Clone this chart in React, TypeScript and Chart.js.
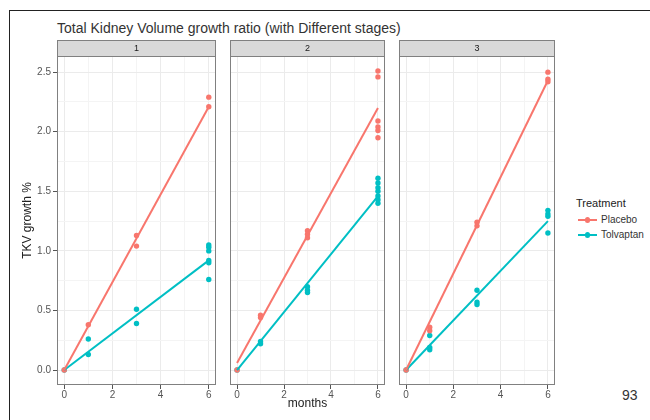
import React, { useEffect, useRef } from "react";
import { Chart, registerables } from "chart.js";

Chart.register(...registerables);

// ---------- data ----------
const chartTitle = "Total Kidney Volume growth ratio (with Different stages)";
const stageLabels = ["1", "2", "3"];
const treatments = ["Placebo", "Tolvaptan"];
const xTickValues = [0, 2, 4, 6];
const xMinorValues = [1, 3, 5];
const yTickValues = [0, 0.5, 1, 1.5, 2, 2.5];
const yMinorValues = [0.25, 0.75, 1.25, 1.75, 2.25];
const fitMonths = [0, 6];

// stage 1
const placeboMonths1 = [0, 1, 3, 3, 6, 6];
const placeboGrowth1 = [0, 0.38, 1.13, 1.04, 2.29, 2.21];
const placeboFit1 = [0.0, 2.21];
const tolvaptanMonths1 = [0, 1, 1, 3, 3, 6, 6, 6, 6, 6, 6];
const tolvaptanGrowth1 = [0, 0.26, 0.13, 0.51, 0.39, 1.05, 1.03, 1.0, 0.92, 0.9, 0.76];
const tolvaptanFit1 = [0.0, 0.92];

// stage 2
const placeboMonths2 = [0, 1, 1, 3, 3, 3, 6, 6, 6, 6, 6, 6];
const placeboGrowth2 = [0, 0.46, 0.44, 1.17, 1.14, 1.11, 2.51, 2.46, 2.09, 2.04, 2.01, 1.95];
const placeboFit2 = [0.06, 2.2];
const tolvaptanMonths2 = [0, 1, 1, 3, 3, 3, 6, 6, 6, 6, 6, 6, 6];
const tolvaptanGrowth2 = [0, 0.24, 0.22, 0.7, 0.67, 0.65, 1.61, 1.57, 1.53, 1.5, 1.46, 1.43, 1.4];
const tolvaptanFit2 = [0.0, 1.46];

// stage 3
const placeboMonths3 = [0, 1, 1, 3, 3, 6, 6, 6];
const placeboGrowth3 = [0, 0.36, 0.33, 1.24, 1.21, 2.5, 2.44, 2.42];
const placeboFit3 = [0.0, 2.43];
const tolvaptanMonths3 = [0, 1, 1, 1, 3, 3, 3, 6, 6, 6, 6];
const tolvaptanGrowth3 = [0, 0.29, 0.19, 0.17, 0.67, 0.57, 0.55, 1.34, 1.31, 1.29, 1.15];
const tolvaptanFit3 = [0.0, 1.25];

// ---------- style ----------
const PLACEBO = "#F8766D";
const TOLVAPTAN = "#00BFC4";
const FONT = "'Liberation Sans', Arial, sans-serif";
const X_MIN = -0.3;
const X_MAX = 6.3;
const Y_MIN = -0.1255;
const Y_MAX = 2.6355;

const stages = [
  { pm: placeboMonths1, pg: placeboGrowth1, pf: placeboFit1, tm: tolvaptanMonths1, tg: tolvaptanGrowth1, tf: tolvaptanFit1 },
  { pm: placeboMonths2, pg: placeboGrowth2, pf: placeboFit2, tm: tolvaptanMonths2, tg: tolvaptanGrowth2, tf: tolvaptanFit2 },
  { pm: placeboMonths3, pg: placeboGrowth3, pf: placeboFit3, tm: tolvaptanMonths3, tg: tolvaptanGrowth3, tf: tolvaptanFit3 },
];

const toPoints = (xs: number[], ys: number[]) => xs.map((x, i) => ({ x, y: ys[i] }));
const isMajorX = (v: number) => xTickValues.includes(v);
const isMajorY = (v: number) => yTickValues.some((t) => Math.abs(t - v) < 1e-9);

const panelFrame = (label: string) => ({
  id: "panelFrame",
  afterDraw(chart: any) {
    const { ctx, chartArea: a } = chart;
    const w = a.right - a.left;
    const h = a.bottom - a.top;
    ctx.save();
    ctx.fillStyle = "#D9D9D9";
    ctx.fillRect(a.left, 0, w, a.top);
    ctx.strokeStyle = "#808080";
    ctx.lineWidth = 1;
    ctx.strokeRect(a.left + 0.5, 0.5, w - 1, a.top);
    ctx.strokeRect(a.left + 0.5, a.top + 0.5, w - 1, h - 1);
    ctx.fillStyle = "#1A1A1A";
    ctx.font = `9px ${FONT}`;
    ctx.textAlign = "center";
    ctx.textBaseline = "middle";
    ctx.fillText(label, a.left + w / 2, a.top / 2 + 0.5);
    ctx.restore();
  },
});

type PanelProps = { index: number; left: number; width: number; yAxisWidth: number; first: boolean; xTitle: boolean };

function Panel({ index, left, width, yAxisWidth, first, xTitle }: PanelProps) {
  const ref = useRef<HTMLCanvasElement | null>(null);
  useEffect(() => {
    const s = stages[index];
    const chart = new Chart(ref.current as HTMLCanvasElement, {
      type: "scatter",
      data: {
        datasets: [
          { label: treatments[0] + " fit", data: toPoints(fitMonths, s.pf), showLine: true, borderColor: PLACEBO, borderWidth: 2, pointRadius: 0 },
          { label: treatments[1] + " fit", data: toPoints(fitMonths, s.tf), showLine: true, borderColor: TOLVAPTAN, borderWidth: 2, pointRadius: 0 },
          { label: treatments[0], data: toPoints(s.pm, s.pg), showLine: false, backgroundColor: PLACEBO, borderWidth: 0, pointRadius: 2.7 },
          { label: treatments[1], data: toPoints(s.tm, s.tg), showLine: false, backgroundColor: TOLVAPTAN, borderWidth: 0, pointRadius: 2.7 },
        ],
      } as any,
      options: {
        responsive: false,
        animation: false,
        events: [],
        layout: { padding: { top: 16, right: 1, left: 0, bottom: 0 } },
        plugins: { legend: { display: false }, tooltip: { enabled: false }, title: { display: false } },
        scales: {
          x: {
            type: "linear",
            min: X_MIN,
            max: X_MAX,
            afterBuildTicks: (sc: any) => {
              sc.ticks = [...xTickValues, ...xMinorValues].sort((a, b) => a - b).map((v) => ({ value: v }));
            },
            afterFit: (sc: any) => {
              sc.height = 35;
            },
            border: { display: false },
            grid: {
              color: (c: any) => (isMajorX(c.tick?.value) ? "#EBEBEB" : "#F4F4F4"),
              lineWidth: 1,
              drawTicks: true,
              tickLength: 4,
              tickColor: (c: any) => (isMajorX(c.tick?.value) ? "#555555" : "rgba(0,0,0,0)"),
            },
            ticks: {
              autoSkip: false,
              maxRotation: 0,
              padding: 0,
              color: "#555555",
              font: { family: FONT, size: 10 },
              callback: (v: any) => (isMajorX(v) ? String(v) : ""),
            },
            title: {
              display: xTitle,
              text: "months",
              color: "#222222",
              font: { family: FONT, size: 12 },
              padding: { top: 0, bottom: 9 },
            },
          },
          y: {
            type: "linear",
            min: Y_MIN,
            max: Y_MAX,
            afterBuildTicks: (sc: any) => {
              sc.ticks = [...yTickValues, ...yMinorValues].sort((a, b) => a - b).map((v) => ({ value: v }));
            },
            afterFit: (sc: any) => {
              sc.width = yAxisWidth;
            },
            border: { display: false },
            grid: {
              color: (c: any) => (isMajorY(c.tick?.value) ? "#EBEBEB" : "#F4F4F4"),
              lineWidth: 1,
              drawTicks: first,
              tickLength: 4,
              tickColor: (c: any) => (isMajorY(c.tick?.value) ? "#555555" : "rgba(0,0,0,0)"),
            },
            ticks: {
              display: first,
              autoSkip: false,
              padding: 2,
              color: "#555555",
              font: { family: FONT, size: 10 },
              callback: (v: any) => (isMajorY(v) ? Number(v).toFixed(1) : ""),
            },
            title: {
              display: first,
              text: "TKV growth %",
              color: "#222222",
              font: { family: FONT, size: 12 },
              padding: { top: 20, bottom: 0 },
            },
          },
        },
      } as any,
      plugins: [panelFrame(stageLabels[index])],
    });
    return () => chart.destroy();
  }, []);
  return (
    <canvas
      ref={ref}
      width={width}
      height={380}
      style={{ position: "absolute", left, top: 40, width, height: 380 }}
    />
  );
}

function LegendKey({ color, top, label }: { color: string; top: number; label: string }) {
  return (
    <>
      <div style={{ position: "absolute", left: 578, top: top - 1, width: 19, height: 2, background: color }} />
      <div style={{ position: "absolute", left: 585, top: top - 2.7, width: 5.4, height: 5.4, borderRadius: "50%", background: color }} />
      <div style={{ position: "absolute", left: 601, top: top - 7, fontSize: 10, lineHeight: "14px", color: "#333" }}>{label}</div>
    </>
  );
}

export default function App() {
  return (
    <div
      style={{
        position: "absolute",
        left: 0,
        top: 0,
        width: 650,
        height: 420,
        overflow: "hidden",
        background: "#ffffff",
        fontFamily: FONT,
      }}
    >
      <div style={{ position: "absolute", left: 9, top: 10, width: 700, height: 500, borderLeft: "1.5px solid #222", borderTop: "1.5px solid #222" }} />
      <div style={{ position: "absolute", left: 57, top: 19, fontSize: 14, lineHeight: "18px", color: "#333", whiteSpace: "nowrap" }}>
        {chartTitle}
      </div>
      <Panel index={0} left={0} width={220} yAxisWidth={57} first={true} xTitle={false} />
      <Panel index={1} left={226} width={163} yAxisWidth={0} first={false} xTitle={true} />
      <Panel index={2} left={395} width={164} yAxisWidth={0} first={false} xTitle={false} />
      <div style={{ position: "absolute", left: 576, top: 196, fontSize: 11, lineHeight: "14px", color: "#222" }}>Treatment</div>
      <LegendKey color={PLACEBO} top={220} label={treatments[0]} />
      <LegendKey color={TOLVAPTAN} top={235} label={treatments[1]} />
      <div style={{ position: "absolute", left: 622, top: 386, fontSize: 14, lineHeight: "18px", color: "#333" }}>93</div>
    </div>
  );
}
